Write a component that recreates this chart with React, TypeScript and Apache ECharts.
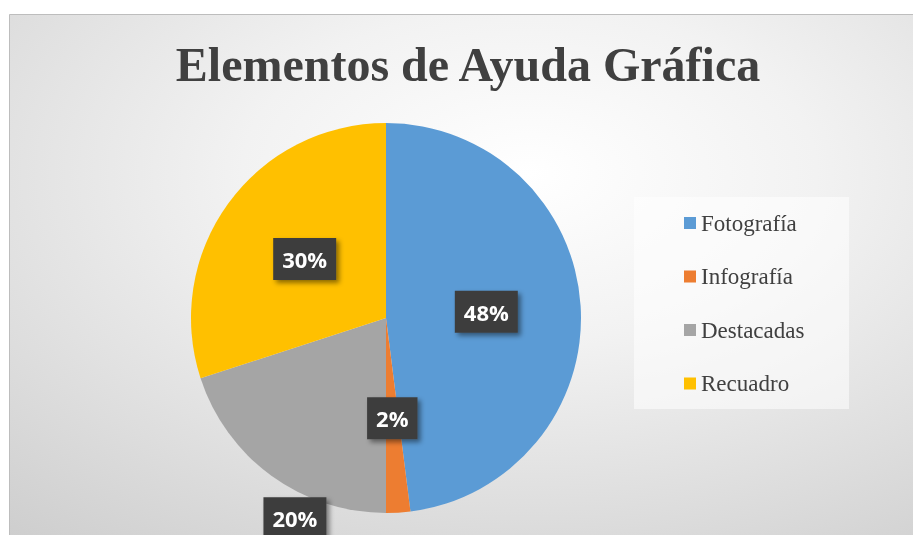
import React, { useEffect, useRef } from "react";
import * as echarts from "echarts";

const titleText = "Elementos de Ayuda Gráfica";
const categories = ["Fotografía", "Infografía", "Destacadas", "Recuadro"];
const values = [48, 2, 20, 30];
const colors = ["#5b9bd5", "#ed7d31", "#a5a5a5", "#ffc000"];

export default function App() {
  const ref = useRef<HTMLDivElement>(null);
  useEffect(() => {
    const chart = echarts.init(ref.current!, null, { renderer: "svg" });
    chart.setOption({
      animation: false,
      color: colors,
      graphic: [
        {
          type: "rect",
          z: -10,
          silent: true,
          shape: { x: 9.5, y: 14.5, width: 912, height: 530 },
          style: {
            fill: new echarts.graphic.RadialGradient(0.57, 0.3, 1.05, [
              { offset: 0, color: "#ffffff" },
              { offset: 0.3, color: "#f2f2f2" },
              { offset: 1, color: "#c4c4c4" },
            ]),
            stroke: "#bdbdbd",
            lineWidth: 1,
          },
        },
        {
          type: "rect",
          z: -5,
          silent: true,
          shape: { x: 634, y: 197, width: 215, height: 212 },
          style: { fill: "rgba(255,255,255,0.55)" },
        },
        {
          type: "text",
          x: 468,
          y: 64,
          silent: true,
          style: {
            text: titleText,
            font: "bold 48px 'Liberation Serif'",
            fill: "#404040",
            align: "center",
            verticalAlign: "middle",
          },
        },
      ],
      legend: {
        orient: "vertical",
        left: 679,
        top: 206,
        itemWidth: 12,
        itemHeight: 12,
        itemGap: 29.5,
        icon: "rect",
        data: categories,
        textStyle: {
          fontFamily: "'Liberation Serif'",
          fontSize: 23,
          lineHeight: 24,
          color: "#404040",
        },
      },
      series: [
        {
          type: "pie",
          center: [386, 318],
          radius: 195,
          startAngle: 90,
          clockwise: true,
          emphasis: { disabled: true },
          labelLine: { show: false },
          label: {
            show: true,
            position: "inside",
            formatter: "{d}%",
            color: "#ffffff",
            fontFamily: "'Open Sans'",
            fontWeight: "bold",
            fontSize: 22,
            lineHeight: 24,
            backgroundColor: "#3d3d3d",
            padding: [9, 9, 9, 9],
            shadowColor: "rgba(0,0,0,0.45)",
            shadowBlur: 5,
            shadowOffsetX: 3,
            shadowOffsetY: 3,
          },
          labelLayout: (params: any) =>
            params.dataIndex === 2 ? { dx: -32, dy: 119 } : {},
          data: categories.map((name, i) => ({ name, value: values[i] })),
        },
      ],
    });
    return () => chart.dispose();
  }, []);
  return (
    <div
      ref={ref}
      style={{ position: "fixed", left: 0, top: 0, width: 913, height: 535 }}
    />
  );
}
